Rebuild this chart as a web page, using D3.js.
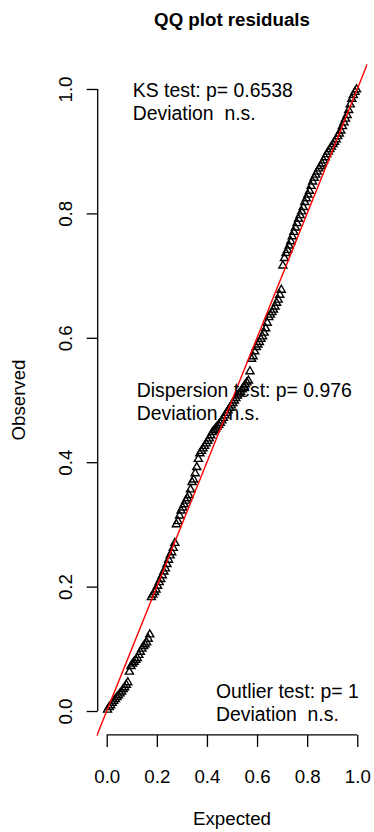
<!DOCTYPE html>
<html>
<head>
<meta charset="utf-8">
<script src="https://cdn.jsdelivr.net/npm/d3@7"></script>
<style>
  html, body { margin: 0; padding: 0; background: #fff; }
  svg { display: block; }
  text { font-family: "Liberation Sans", Arial, sans-serif; fill: #000; }
</style>
</head>
<body>
<div id="chart"></div>
<script>
// Sorted scaled residuals (observed quantiles)
const observed = [
  0.002, 0.006, 0.009, 0.013, 0.016, 0.019, 0.022, 0.025, 0.028, 0.031,
  0.035, 0.038, 0.042, 0.046, 0.063, 0.072, 0.076, 0.079, 0.082, 0.085,
  0.090, 0.095, 0.100, 0.104, 0.107, 0.110, 0.116, 0.123, 0.183, 0.187,
  0.191, 0.195, 0.201, 0.207, 0.212, 0.218, 0.224, 0.229, 0.236, 0.243,
  0.250, 0.255, 0.262, 0.270, 0.300, 0.305, 0.314, 0.322, 0.327, 0.332,
  0.338, 0.342, 0.347, 0.356, 0.368, 0.372, 0.382, 0.392, 0.405, 0.414,
  0.418, 0.422, 0.426, 0.430, 0.434, 0.438, 0.443, 0.448, 0.451, 0.454,
  0.457, 0.460, 0.463, 0.467, 0.471, 0.475, 0.479, 0.483, 0.487, 0.491,
  0.495, 0.499, 0.503, 0.507, 0.510, 0.513, 0.517, 0.521, 0.525, 0.528,
  0.531, 0.546, 0.566, 0.570, 0.578, 0.585, 0.589, 0.593, 0.598, 0.602,
  0.608, 0.615, 0.624, 0.633, 0.637, 0.641, 0.645, 0.650, 0.656, 0.661,
  0.669, 0.677, 0.716, 0.728, 0.736, 0.741, 0.748, 0.755, 0.763, 0.770,
  0.777, 0.784, 0.791, 0.797, 0.803, 0.810, 0.818, 0.824, 0.830, 0.836,
  0.844, 0.851, 0.857, 0.862, 0.867, 0.872, 0.876, 0.880, 0.885, 0.890,
  0.895, 0.899, 0.903, 0.907, 0.911, 0.915, 0.919, 0.924, 0.928, 0.933,
  0.940, 0.946, 0.952, 0.958, 0.966, 0.975, 0.984, 0.990, 0.995, 0.999
];

const xTicks = [0, 0.2, 0.4, 0.6, 0.8, 1.0];
const yTicks = [0, 0.2, 0.4, 0.6, 0.8, 1.0];

const titleText = "QQ plot residuals";
const xLabel = "Expected";
const yLabel = "Observed";

// Test annotations: anchor in data space, two lines each
const annotations = [
  { x: 0.104, y: 0.987, lines: ["KS test: p= 0.6538", "Deviation  n.s."] },
  { x: 0.120, y: 0.505, lines: ["Dispersion test: p= 0.976", "Deviation  n.s."] },
  { x: 0.436, y: 0.0204, lines: ["Outlier test: p= 1", "Deviation  n.s."] }
];

const W = 374, H = 832;
// Plot region (base-graphics style, axes extended 4% past the data range)
const region = { left: 96.7, right: 367.3, top: 64.1, bottom: 735.9 };

const sx = d3.scaleLinear().domain([-0.04, 1.04]).range([region.left, region.right]);
const sy = d3.scaleLinear().domain([-0.04, 1.04]).range([region.bottom, region.top]);

// Uniform plotting positions for the expected quantiles
const n = observed.length;
const points = observed.map((v, i) => ({ e: (i + 0.5) / n, o: v }));

const svg = d3.select("#chart").append("svg")
  .attr("width", W).attr("height", H);

svg.append("defs").append("clipPath").attr("id", "plotclip")
  .append("rect")
  .attr("x", region.left).attr("y", region.top)
  .attr("width", region.right - region.left)
  .attr("height", region.bottom - region.top);

// Points: open triangles
const tri = d3.symbol().type(d3.symbolTriangle).size(28);
svg.append("g")
  .selectAll("path")
  .data(points)
  .join("path")
  .attr("d", tri)
  .attr("transform", d => `translate(${sx(d.e)},${sy(d.o)})`)
  .attr("fill", "none")
  .attr("stroke", "#000")
  .attr("stroke-width", 1.4);

// 1:1 reference line
const refLine = d3.line().x(d => sx(d)).y(d => sy(d));
svg.append("path")
  .attr("clip-path", "url(#plotclip)")
  .attr("d", refLine([-0.1, 1.1]))
  .attr("fill", "none")
  .attr("stroke", "#ff0000")
  .attr("stroke-width", 1.4);

// X axis
const xAxis = d3.axisBottom(sx).tickValues(xTicks).tickSize(12).tickPadding(23)
  .tickFormat(d3.format(".1f"));
const gx = svg.append("g")
  .attr("transform", `translate(0,${region.bottom - 1})`)
  .call(xAxis);
gx.select(".domain").remove();
gx.append("line")
  .attr("x1", sx(0)).attr("x2", sx(1))
  .attr("stroke", "#000").attr("stroke-width", 1.3);
gx.selectAll(".tick line").attr("stroke", "#000").attr("stroke-width", 1.3);
gx.selectAll(".tick text")
  .attr("fill", "#000")
  .style("font-size", "18.7px")
  .style("font-family", "'Liberation Sans', Arial, sans-serif");

// Y axis (labels rotated parallel to the axis)
const yAxis = d3.axisLeft(sy).tickValues(yTicks).tickSize(11)
  .tickFormat(d3.format(".1f"));
const gy = svg.append("g")
  .attr("transform", `translate(${region.left + 1},0)`)
  .call(yAxis);
gy.select(".domain").remove();
gy.append("line")
  .attr("y1", sy(0)).attr("y2", sy(1))
  .attr("stroke", "#000").attr("stroke-width", 1.3);
gy.selectAll(".tick line").attr("stroke", "#000").attr("stroke-width", 1.3);
gy.selectAll(".tick text")
  .attr("fill", "#000")
  .attr("x", null).attr("dy", null)
  .attr("text-anchor", "middle")
  .attr("transform", "translate(-26.2,0) rotate(-90)")
  .style("font-size", "18.7px")
  .style("font-family", "'Liberation Sans', Arial, sans-serif");

// Title
svg.append("text")
  .attr("x", (region.left + region.right) / 2)
  .attr("y", 25.5)
  .attr("text-anchor", "middle")
  .style("font-size", "18.7px")
  .style("font-weight", "bold")
  .text(titleText);

// Axis titles
svg.append("text")
  .attr("x", (region.left + region.right) / 2)
  .attr("y", 825)
  .attr("text-anchor", "middle")
  .style("font-size", "18.7px")
  .text(xLabel);

svg.append("text")
  .attr("transform", `translate(25,${(sy(0) + sy(1)) / 2}) rotate(-90)`)
  .attr("text-anchor", "middle")
  .style("font-size", "18.7px")
  .text(yLabel);

// Test result annotations
const ann = svg.append("g");
annotations.forEach(a => {
  const t = ann.append("text")
    .attr("x", sx(a.x))
    .attr("y", sy(a.y))
    .style("font-size", "19.4px")
    .style("white-space", "pre")
    .attr("xml:space", "preserve");
  a.lines.forEach((line, i) => {
    t.append("tspan")
      .attr("x", sx(a.x))
      .attr("dy", i === 0 ? 0 : 22.7)
      .text(line);
  });
});
</script>
</body>
</html>
